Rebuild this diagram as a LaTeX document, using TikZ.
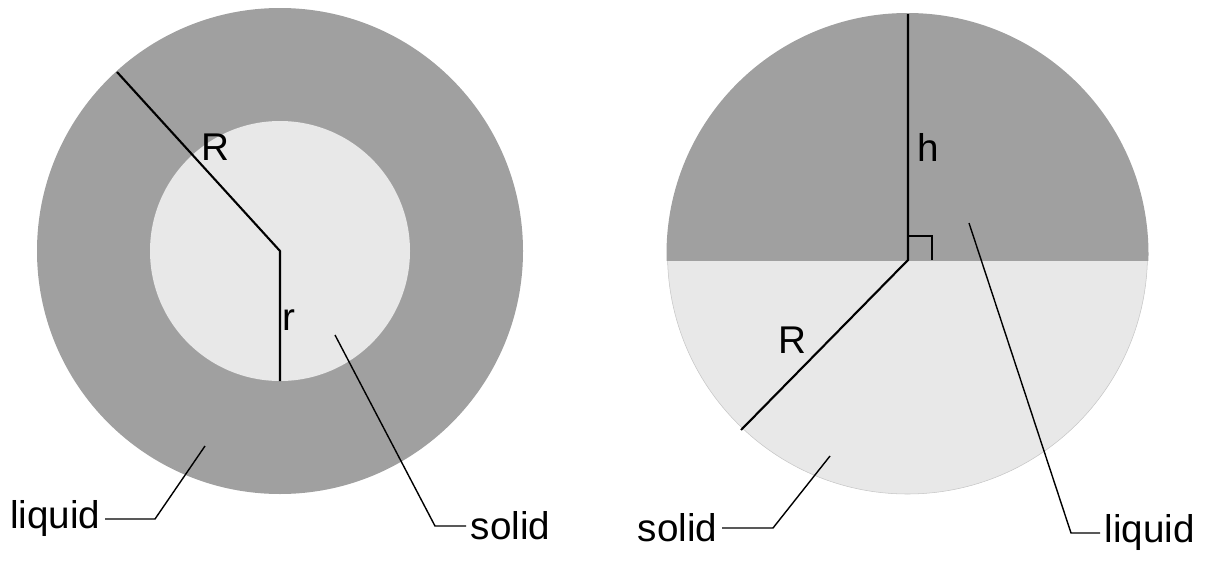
\documentclass[tikz,border=0pt]{standalone}
\usepackage{fontspec}
\setmainfont{Liberation Sans}
\usepackage{tikz}
\definecolor{liquidgray}{RGB}{160,160,160}
\definecolor{solidgray}{RGB}{232,232,232}
\tikzset{
	liquidfill/.style={fill=liquidgray},
	solidfill/.style={fill=solidgray},
	radline/.style={line width=1.2pt},
	leader/.style={line width=0.8pt},
	lbl/.style={inner sep=2.5pt, font=\fontsize{22}{26}\selectfont}
}

\begin{document}
\begin{tikzpicture}[x=0.02cm, y=-0.02cm]
					\useasboundingbox (0,0) rectangle (1211,561);
					
					% left: solid core in a liquid shell
					\coordinate (cL) at (280,251);
					\coordinate (RL) at (117,72);
					\coordinate (rL) at (280,381);
					\fill [liquidfill] (cL) circle [radius=243];
					\fill [solidfill] (cL) circle [radius=130];
					\draw [radline] (RL) -- (cL) -- (rL);
					\node [lbl] (labRL) at (215,147) {R};
					\node [lbl] (labrL) at (289,320) {r};
					
					\node [lbl, anchor=east] (liqL) at (105,519) {liquid};
					\coordinate (liqLtip) at (205,446);
					\draw [leader] (liqL.east) -- ++(50,0) -- (liqLtip);
					\node [lbl, anchor=west] (solL) at (466,526) {solid};
					\coordinate (solLtip) at (335,335);
					\draw [leader] (solL.west) -- ++(-31,0) -- (solLtip);
					
					% right: liquid above, solid below
					\coordinate (cR) at (907.5,254);
					\coordinate (oR) at (908,260);
					\coordinate (hR) at (908,14);
					\coordinate (RR) at (741,430);
					\fill [solidfill] (cR) circle [radius=240];
					\draw [gray!45, line width=0.3pt] (cR) circle [radius=240];
					\begin{scope}
						\clip (640,0) rectangle (1170,260);
						\fill [liquidfill] (cR) circle [radius=241];
					\end{scope}
					\draw [radline] (hR) -- (oR) -- (RR);
					\draw [leader] (908,236) -- (932,236) -- (932,260);
					\node [lbl] (labh) at (928,147) {h};
					\node [lbl] (labRR) at (792,340) {R};
					
					\node [lbl, anchor=east] (solR) at (722,528) {solid};
					\coordinate (solRtip) at (830,456);
					\draw [leader] (solR.east) -- ++(51,0) -- (solRtip);
					\node [lbl, anchor=west] (liqR) at (1100,533) {liquid};
					\coordinate (liqRtip) at (969,223);
					\draw [leader] (liqR.west) -- ++(-29,0) -- (liqRtip);
				
				\end{tikzpicture}
\end{document}
